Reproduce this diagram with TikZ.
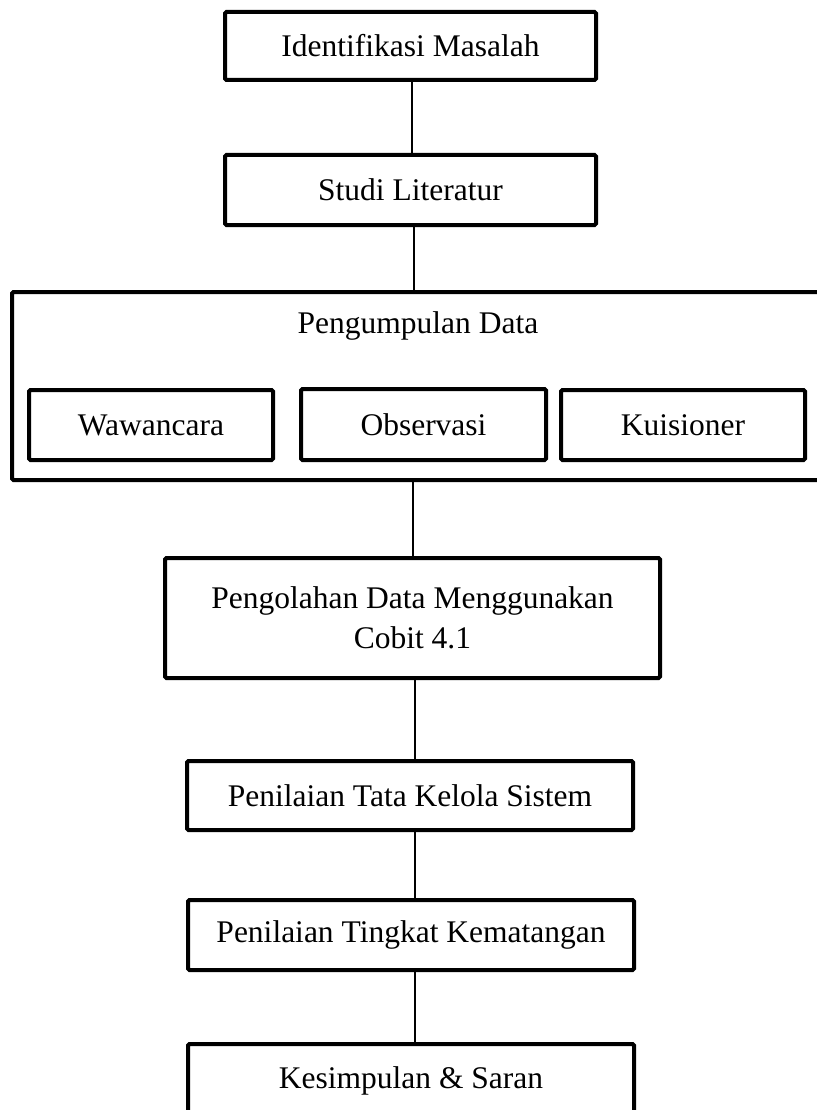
\documentclass[tikz,border=0pt]{standalone}
\usepackage{fontspec}
\setmainfont{Liberation Serif}
\begin{document}
\begin{tikzpicture}[x=1pt,y=-1pt,
  box/.style={draw=black,line width=4pt,rounded corners=1.5pt,fill=white,inner sep=0pt,align=center,
    font=\fontsize{31.5}{40}\selectfont},
  link/.style={draw=black,line width=2pt},
  lbl/.style={inner sep=0pt,font=\fontsize{31.5}{40}\selectfont}]
\useasboundingbox (0,0) rectangle (816,1110);
\node[box,minimum width=371pt,minimum height=68pt] (ident) at (410.5,46) {Identifikasi Masalah};
\node[box,minimum width=371pt,minimum height=70pt] (studi) at (410.5,190) {Studi Literatur};
\node[box,minimum width=810pt,minimum height=188pt] (pd) at (417,386) {};
\node[lbl,anchor=base] (pdlabel) at (418,333) {Pengumpulan Data};
\node[box,minimum width=244pt,minimum height=70pt] (waw) at (151,425) {Wawancara};
\node[box,minimum width=245pt,minimum height=71pt] (obs) at (423.5,424.5) {Observasi};
\node[box,minimum width=244pt,minimum height=70pt] (kui) at (683,425) {Kuisioner};
\node[box,minimum width=495pt,minimum height=120pt] (olah) at (412.5,618) {Pengolahan Data Menggunakan\\Cobit 4.1};
\node[box,minimum width=446pt,minimum height=69pt] (tata) at (410,795.5) {Penilaian Tata Kelola Sistem};
\node[box,minimum width=446pt,minimum height=70pt] (tingkat) at (411,935) {Penilaian Tingkat Kematangan};
\node[box,minimum width=446pt,minimum height=74pt] (simpul) at (411,1081) {Kesimpulan \& Saran};
\begin{scope}[on background layer/.try]
\end{scope}
\draw[link] (ident.south -| 412,0) -- (studi.north -| 412,0);
\draw[link] (studi.south -| 414,0) -- (pd.north -| 414,0);
\draw[link] (pd.south -| 413,0) -- (olah.north -| 413,0);
\draw[link] (olah.south -| 415,0) -- (tata.north -| 415,0);
\draw[link] (tata.south -| 415,0) -- (tingkat.north -| 415,0);
\draw[link] (tingkat.south -| 415,0) -- (simpul.north -| 415,0);
\end{tikzpicture}
\end{document}
